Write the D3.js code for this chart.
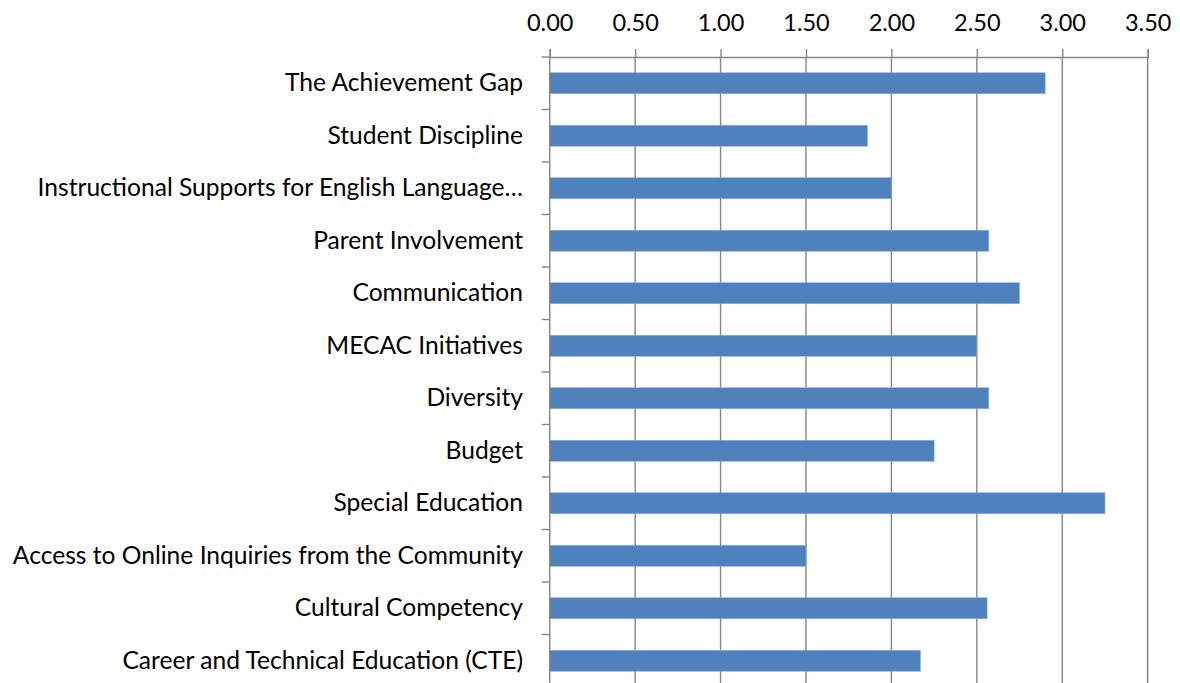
<!DOCTYPE html>
<html>
<head>
<meta charset="utf-8">
<script src="https://cdn.jsdelivr.net/npm/d3@7"></script>
<style>
  html, body { margin: 0; padding: 0; background: #fff; overflow: hidden; }
  svg { display: block; }
  text { font-family: Lato, "Open Sans", sans-serif; fill: #000; }
</style>
</head>
<body>
<svg id="chart" width="1180" height="683"></svg>
<script>
const categories = [
  "The Achievement Gap",
  "Student Discipline",
  "Instructional Supports for English Language\u2026",
  "Parent Involvement",
  "Communication",
  "MECAC Initiatives",
  "Diversity",
  "Budget",
  "Special Education",
  "Access to Online Inquiries from the Community",
  "Cultural Competency",
  "Career and Technical Education (CTE)"
];
const values = [2.90, 1.86, 2.00, 2.57, 2.75, 2.50, 2.57, 2.25, 3.25, 1.50, 2.56, 2.17];
const tickValues = [0, 0.5, 1, 1.5, 2, 2.5, 3, 3.5];

(function () {
const svg = d3.select("#chart");
const mLeft = 549.7, mRight = 1147.7, mTop = 57, mBottom = 687;
const axisFont = 23.5;
const labelFont = 24.6;

const x = d3.scaleLinear().domain([0, 3.5]).range([mLeft, mRight]);
const y = d3.scaleBand().domain(categories).range([mTop, mBottom]).paddingInner(0.6).paddingOuter(0.3);
const yb = d3.scaleBand().domain(categories).range([mTop, mBottom]);

const grid = "#868686";

// vertical gridlines
svg.append("g").selectAll("line").data(tickValues.slice(1)).join("line")
  .attr("x1", d => x(d)).attr("x2", d => x(d))
  .attr("y1", mTop).attr("y2", mBottom)
  .attr("stroke", grid).attr("stroke-width", 1.4);

// bars
svg.append("g").selectAll("rect").data(values).join("rect")
  .attr("x", x(0))
  .attr("y", (d, i) => y(categories[i]))
  .attr("width", d => x(d) - x(0))
  .attr("height", y.bandwidth())
  .attr("fill", "#4F81BD")
  .attr("stroke", "#8fb0da").attr("stroke-width", 0.6);

// top axis
const xAxis = d3.axisTop(x).tickValues(tickValues).tickFormat(d3.format(".2f")).tickSize(8).tickPadding(18);
const gx = svg.append("g").attr("transform", `translate(0,${mTop})`).call(xAxis);
gx.select(".domain").attr("stroke", grid).attr("stroke-width", 1.4);
gx.selectAll(".tick line").attr("stroke", grid).attr("stroke-width", 1.4);
gx.selectAll(".tick text").attr("font-size", axisFont).attr("font-family", "Lato, 'Open Sans', sans-serif").attr("fill", "#000");

// left axis (category) with ticks at boundaries
svg.append("line").attr("x1", mLeft).attr("x2", mLeft).attr("y1", mTop).attr("y2", mBottom)
  .attr("stroke", grid).attr("stroke-width", 1.4);
const boundaries = categories.map(c => yb(c));
svg.append("g").selectAll("line").data(boundaries).join("line")
  .attr("x1", mLeft - 8).attr("x2", mLeft).attr("y1", d => d).attr("y2", d => d)
  .attr("stroke", grid).attr("stroke-width", 1.4);

// category labels
svg.append("g").selectAll("text").data(categories).join("text")
  .attr("x", 523)
  .attr("y", d => yb(d) + yb.bandwidth() / 2)
  .attr("dy", "0.33em")
  .attr("text-anchor", "end")
  .attr("font-size", labelFont)
  .text(d => d);
})();
</script>
</body>
</html>
